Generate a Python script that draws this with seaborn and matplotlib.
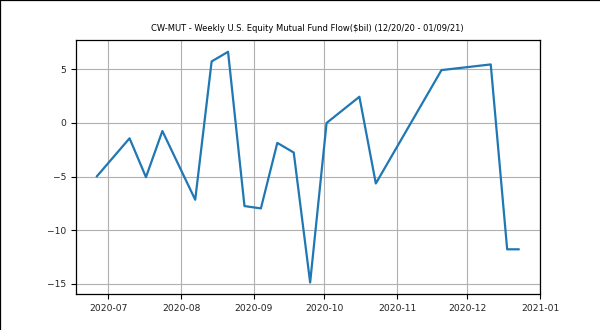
import matplotlib
matplotlib.use("Agg")
import matplotlib.pyplot as plt
import matplotlib.dates as mdates
from matplotlib.lines import Line2D
import pandas as pd
import seaborn as sns

# Weekly U.S. equity mutual fund flows, $ billions
dates = [
    "2020-06-26", "2020-07-10", "2020-07-17", "2020-07-24", "2020-08-07",
    "2020-08-14", "2020-08-21", "2020-08-28", "2020-09-04", "2020-09-11",
    "2020-09-18", "2020-09-25", "2020-10-02", "2020-10-16", "2020-10-23",
    "2020-11-20", "2020-12-11", "2020-12-18", "2020-12-23",
]
flows = [
    -5.0, -1.43, -5.06, -0.75, -7.17,
    5.75, 6.65, -7.76, -7.98, -1.86,
    -2.76, -14.9, 0.0, 2.45, -5.65,
    4.94, 5.47, -11.8, -11.8,
]
title = "CW-MUT - Weekly U.S. Equity Mutual Fund Flow($bil) (12/20/20 - 01/09/21)"

df = pd.DataFrame({"date": pd.to_datetime(dates), "flow": flows})

sns.set_style("ticks")
plt.rcParams["font.family"] = ["DejaVu Sans"]
plt.rcParams["text.color"] = "black"

fig = plt.figure(figsize=(6.0, 3.3), dpi=100)
ax = fig.add_axes([0.126, 0.109, 0.774, 0.769])

sns.lineplot(data=df, x="date", y="flow", ax=ax, color="#1f77b4", linewidth=1.6)

ax.grid(True, color="#b0b0b0", linewidth=0.8)
ax.set_axisbelow(True)
ax.xaxis.set_major_locator(mdates.MonthLocator())
ax.xaxis.set_major_formatter(mdates.DateFormatter("%Y-%m"))
ax.tick_params(labelsize=6.6, length=3.5, width=0.8, colors="black", labelcolor="#222222")
ax.set_xlabel("")
ax.set_ylabel("")
ax.set_title(title, fontsize=6.05, pad=7, color="black")
for s in ax.spines.values():
    s.set_visible(True)
    s.set_color("black")
    s.set_linewidth(0.9)

# frame lines along the top and left edges of the figure
fig.add_artist(Line2D([0, 1], [0.9985, 0.9985], transform=fig.transFigure, color="black", linewidth=0.9))
fig.add_artist(Line2D([0.0008, 0.0008], [0, 1], transform=fig.transFigure, color="black", linewidth=0.9))

fig.savefig("out.png", dpi=100, facecolor="white")
